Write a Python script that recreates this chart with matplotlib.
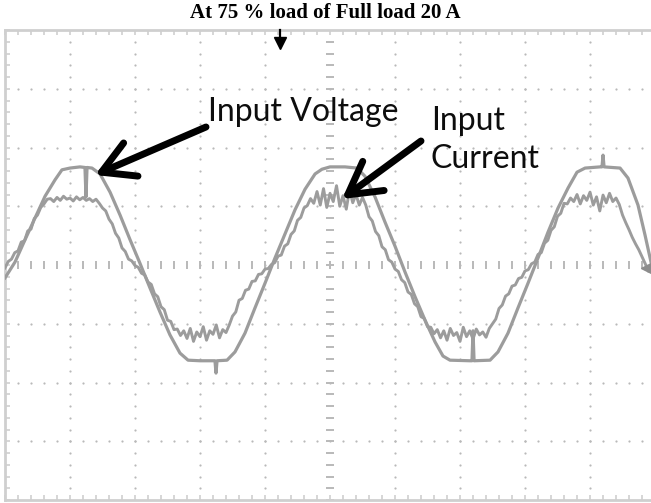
import numpy as np
import matplotlib
matplotlib.use("Agg")
import matplotlib.pyplot as plt

# ---------------- data (time in ms, 5 ms/div; amplitude in screen divisions) -------------
title = "At 75 % load of Full load 20 A"
label_voltage = "Input Voltage"
label_current_1 = "Input"
label_current_2 = "Current"

volt_t = [0.0, 0.77, 1.54, 2.31, 3.08, 3.85, 4.38, 5.0, 5.77, 6.15, 6.23, 6.31, 6.69,
          7.31, 8.08, 8.85, 9.62, 10.38, 11.15, 11.92, 12.69, 13.46, 14.08, 15.0,
          16.15, 16.23, 16.31, 17.08, 17.69, 18.46, 19.23, 20.0, 20.77, 21.54, 22.31,
          23.08, 23.85, 24.38, 25.0, 26.15, 27.08, 27.69, 28.46, 29.23, 30.0, 30.77,
          31.54, 32.31, 33.08, 33.69, 34.23, 35.77, 35.92, 36.0, 36.08, 37.31, 37.92,
          38.69, 39.46, 40.23, 41.0, 41.77, 42.54, 43.31, 44.0, 44.62, 45.77, 45.92,
          46.0, 46.08, 47.31, 47.92, 48.69, 49.23, 49.69]
volt_y = [-0.22, 0.05, 0.43, 0.80, 1.17, 1.45, 1.62, 1.65, 1.67, 1.66, 1.16, 1.66, 1.65,
          1.55, 1.24, 0.85, 0.43, 0.03, -0.39, -0.80, -1.19, -1.50, -1.62, -1.63,
          -1.63, -1.84, -1.63, -1.62, -1.48, -1.16, -0.73, -0.31, 0.12, 0.53, 0.94,
          1.29, 1.55, 1.63, 1.67, 1.67, 1.65, 1.51, 1.16, 0.73, 0.32, -0.12,
          -0.54, -0.94, -1.31, -1.55, -1.62, -1.63, -1.63, -1.12, -1.63, -1.62, -1.48,
          -1.16, -0.73, -0.31, 0.12, 0.56, 0.97, 1.31, 1.58, 1.65, 1.67, 1.67,
          1.87, 1.67, 1.65, 1.48, 1.02, 0.51, 0.05]

curr_sample_ms = 0.25
curr_y = [
    -0.05, 0.06, 0.10, 0.21, 0.24, 0.39, 0.41, 0.58, 0.61, 0.79, 0.85, 0.98, 1.04, 1.12, 1.13,
    1.08, 1.15, 1.10, 1.17, 1.12, 1.14, 1.09, 1.16, 1.11, 1.15, 1.10, 1.13, 1.08, 1.12,
    1.05, 0.97, 0.92, 0.78, 0.70, 0.54, 0.46, 0.29, 0.23, 0.10, 0.07, -0.01,
    -0.04, -0.14, -0.17, -0.29, -0.33, -0.49, -0.54, -0.71, -0.76, -0.94, -0.96, -1.10, -1.09, -1.20,
    -1.12, -1.25, -1.08, -1.30, -1.14, -1.22, -1.05, -1.28, -1.12, -1.18, -1.02, -1.24, -1.10, -1.15,
    -1.02, -0.87, -0.80, -0.60, -0.57, -0.43, -0.41, -0.28, -0.27, -0.16, -0.15, -0.07, -0.06, 0.01,
    0.04, 0.15, 0.17, 0.32, 0.36, 0.52, 0.58, 0.76, 0.81, 0.97, 1.01, 1.13,
    1.05, 1.25, 1.02, 1.30, 0.98, 1.22, 1.08, 1.35, 1.00, 1.18, 0.95, 1.28, 1.06, 1.20, 1.02, 1.15,
    1.02, 0.82, 0.75, 0.57, 0.50, 0.31, 0.26, 0.09, 0.05, -0.07,
    -0.11, -0.25, -0.30, -0.46, -0.50, -0.66, -0.71, -0.88, -0.91, -1.05, -1.06, -1.17,
    -1.10, -1.24, -1.12, -1.28, -1.08, -1.20, -1.15, -1.30, -1.06, -1.22, -1.12, -1.26, -1.09, -1.19, -1.14, -1.23, -1.08,
    -1.00, -0.92, -0.74, -0.68, -0.53, -0.49, -0.36, -0.34, -0.23, -0.21, -0.10, -0.08, 0.02,
    0.05, 0.18, 0.21, 0.37, 0.42, 0.59, 0.65, 0.83, 0.88, 1.05, 1.04, 1.14,
    1.08, 1.20, 1.04, 1.18, 1.10, 1.24, 1.02, 1.16, 0.92, 1.19, 1.06, 1.22, 1.08, 1.14, 1.03,
    0.85, 0.72, 0.60, 0.47, 0.36, 0.26, 0.14, 0.02, -0.10,
]
curr_t = np.arange(len(curr_y)) * curr_sample_ms

ms_per_div = 5.0
n_xdiv, n_ydiv = 10, 8
x_visible_ms = 49.69
trigger_ms = 21.15

# ---------------- styles ----------------
trace_color = "#9c9c9c"
grid_color = "#b9b9b9"
frame_color = "#cfcfcf"

W, H = 651, 503
fig = plt.figure(figsize=(W / 100, H / 100), dpi=100)
ax = fig.add_axes([5 / W, 3 / H, 646 / W, 470 / H])
ax.set_xlim(0, x_visible_ms)
ax.set_ylim(-n_ydiv / 2, n_ydiv / 2)

# graticule: dotted major lines (dot at every minor division)
minor_x = np.arange(0, x_visible_ms + 0.01, ms_per_div / 5)
minor_y = np.arange(-n_ydiv / 2, n_ydiv / 2 + 0.01, 0.2)
for k in range(1, n_xdiv):
    xv = k * ms_per_div
    if k == n_xdiv // 2:
        ax.plot(np.full_like(minor_y, xv), minor_y, ls="none", marker="_",
                ms=5.5, mew=1.4, color=grid_color, zorder=1)
    else:
        ax.plot(np.full_like(minor_y, xv), minor_y, ls="none", marker="o",
                ms=1.6, mew=0, color=grid_color, zorder=1)
for k in range(-n_ydiv // 2 + 1, n_ydiv // 2):
    if k == 0:
        ax.plot(minor_x, np.zeros_like(minor_x), ls="none", marker="|",
                ms=5.5, mew=1.4, color=grid_color, zorder=1)
    else:
        ax.plot(minor_x, np.full_like(minor_x, k), ls="none", marker="o",
                ms=1.6, mew=0, color=grid_color, zorder=1)

# frame with inward ticks
for s in ["left", "top", "bottom"]:
    ax.spines[s].set_color(frame_color)
    ax.spines[s].set_linewidth(2.0)
ax.spines["right"].set_visible(False)
ax.set_xticks(minor_x)
ax.set_yticks(minor_y)
ax.tick_params(axis="both", which="both", direction="in", length=3.5, width=1.2,
               color=frame_color, labelbottom=False, labelleft=False,
               top=True, bottom=True, left=True, right=False)

# traces
ax.plot(volt_t, volt_y, color=trace_color, lw=2.3, zorder=3, solid_joinstyle="round")
ax.plot(curr_t, curr_y, color=trace_color, lw=2.1, zorder=3, solid_joinstyle="round")

# trigger marker (top) and channel reference marker (right)
ax.plot([trigger_ms, trigger_ms], [4.0, 3.80], color="black", lw=1.6, zorder=5, clip_on=False)
ax.plot([trigger_ms], [3.78], marker="v", ms=8, color="black", zorder=5, clip_on=False)
ax.plot([x_visible_ms - 0.3], [-0.05], marker="<", ms=9, color="#8c8c8c", zorder=5, clip_on=False)

# title
fig.text(0.5, 1 - 13 / H, title, ha="center", va="center",
         family="Liberation Serif", weight="bold", fontsize=15)

# annotations
txt_kw = dict(ha="left", va="baseline", family="Lato", fontsize=23, color="#0d0d0d")
fig.text(208 / W, 1 - 121 / H, label_voltage, **txt_kw)
fig.text(431 / W, 1 - 130 / H, label_current_1, **txt_kw)
fig.text(431 / W, 1 - 168 / H, label_current_2, **txt_kw)

arrow_kw = dict(arrowstyle="->,head_length=2.3,head_width=1.3", lw=5.0,
                color="black", shrinkA=0, shrinkB=0, capstyle="round")
ax.annotate("", xy=(95, H - 175), xycoords="figure pixels",
            xytext=(206, H - 127), textcoords="figure pixels",
            arrowprops=arrow_kw, fontsize=10, zorder=6)
ax.annotate("", xy=(342, H - 199), xycoords="figure pixels",
            xytext=(421, H - 141), textcoords="figure pixels",
            arrowprops=arrow_kw, fontsize=10, zorder=6)

fig.savefig("out.png", dpi=100)
